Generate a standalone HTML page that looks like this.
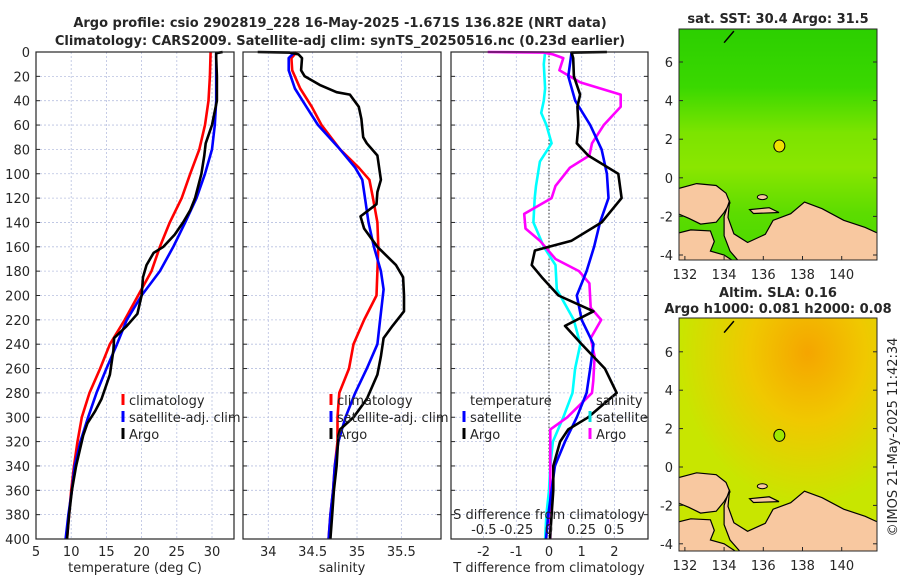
<!DOCTYPE html>
<html><head><meta charset="utf-8"><style>
body{margin:0;background:#fff}
svg text{font-family:"DejaVu Sans","Liberation Sans",sans-serif;fill:#262626}
</style></head><body>
<svg id="s" width="900" height="580" xmlns="http://www.w3.org/2000/svg">
<defs>
<linearGradient id="sstg" x1="0" y1="0" x2="0" y2="1">
<stop offset="0" stop-color="#2ccf00"/><stop offset="0.25" stop-color="#3ad800"/><stop offset="0.45" stop-color="#7ce400"/><stop offset="0.6" stop-color="#8ae600"/><stop offset="0.8" stop-color="#5cdc00"/><stop offset="1" stop-color="#48d800"/></linearGradient>
<radialGradient id="slag" cx="0.65" cy="0.15" r="0.65"><stop offset="0" stop-color="#f5a500"/><stop offset="0.45" stop-color="#f0c800"/><stop offset="1" stop-color="#c8e600"/></radialGradient>
</defs>
<g>
<text x="340" y="27" font-size="13" font-weight="bold" text-anchor="middle" fill="#000">Argo profile: csio 2902819_228 16-May-2025 -1.671S 136.82E (NRT data)</text>
<text x="340" y="45" font-size="13" font-weight="bold" text-anchor="middle" fill="#000">Climatology: CARS2009. Satellite-adj clim: synTS_20250516.nc (0.23d earlier)</text>
</g>
<g id="grids"></g>
<g id="lines"></g>
<g id="frames"></g>
<g id="maps"></g>
</svg>
<script>
// ---------- data ----------
const depthTicks=[0,20,40,60,80,100,120,140,160,180,200,220,240,260,280,300,320,340,360,380,400];
const tempTicks=[5,10,15,20,25,30];
const salTicks=[34,34.5,35,35.5];
const tdiffTicks=[-2,-1,0,1,2];
const sdiffTicks=[-0.5,-0.25,0,0.25,0.5];
const sdiffTickLabels=["-0.5","-0.25","0","0.25","0.5"];
const latTicks=[-4,-2,0,2,4,6];
const lonTicks=[132,134,136,138,140];

const tClimD=[0,20,40,60,80,100,120,140,160,180,200,220,240,260,280,300,320,340,360,380,400];
const tClim=[29.8,29.7,29.5,29.0,28.2,26.9,25.7,24.0,22.6,21.4,19.5,17.6,15.5,14.1,12.6,11.5,10.9,10.4,10.0,9.7,9.4];
const tSatD=[0,20,40,60,80,100,120,140,160,180,200,220,240,260,280,300,320,340,360,380,400];
const tSat=[30.6,30.6,30.6,30.4,30.0,29.0,27.8,26.2,24.5,22.6,20.0,17.9,16.5,15.0,13.6,12.4,11.3,10.5,10.1,9.6,9.2];
const tArgoD=[0,1,5,20,40,60,75,85,100,120,130,140,150,160,165,175,185,200,215,225,235,245,265,285,295,305,315,340,360,380,400];
const tArgo=[31.5,30.6,30.6,30.7,30.7,30.0,29.1,28.9,28.5,27.6,26.9,25.9,24.7,23.1,21.7,20.7,20.2,20.0,19.4,17.9,16.1,16.0,15.5,14.3,13.4,12.3,11.7,10.7,10.1,9.7,9.4];

const sClimD=[0,5,15,30,45,60,80,95,105,120,140,160,180,200,220,240,260,280,300,320,340,360,380,400];
const sClim=[34.32,34.26,34.27,34.36,34.49,34.60,34.81,35.02,35.14,35.18,35.23,35.24,35.23,35.22,35.08,34.96,34.91,34.80,34.78,34.78,34.75,34.73,34.70,34.68];
const sSatD=[0,5,15,30,45,60,80,95,105,120,140,160,180,195,220,240,260,280,300,320,340,360,380,400];
const sSat=[34.30,34.23,34.23,34.30,34.43,34.56,34.81,34.98,35.06,35.09,35.13,35.19,35.27,35.30,35.26,35.23,35.11,34.98,34.87,34.79,34.75,34.73,34.70,34.68];
const sArgoD=[0,0.5,2,5,15,20,27,33,35,45,55,70,75,85,105,115,125,135,145,160,175,185,200,213,225,235,250,265,285,300,310,315,340,360,380,400];
const sArgo=[33.88,34.24,34.34,34.38,34.37,34.41,34.58,34.77,34.92,35.02,35.05,35.07,35.11,35.23,35.27,35.23,35.22,35.04,35.08,35.23,35.44,35.52,35.53,35.53,35.40,35.30,35.27,35.23,35.11,34.96,34.81,34.79,34.77,34.74,34.72,34.70];

const dtSatD=[0,20,40,60,80,100,120,140,160,180,200,220,240,260,280,300,320,340,360,380,400];
const dtSat=[0.69,0.59,0.80,1.26,1.61,1.77,1.82,1.56,1.38,1.15,0.85,1.0,1.36,1.26,1.15,0.85,0.49,0.18,0.08,-0.02,-0.09];
const dtArgoD=[0,0.5,5,20,35,45,60,75,85,100,120,140,155,163,175,185,200,213,225,240,260,280,300,310,320,340,360,380,400];
const dtArgo=[1.77,0.69,0.74,0.76,0.95,0.87,0.90,0.85,1.2,2.12,2.22,1.61,0.69,-0.43,-0.53,-0.22,0.29,1.36,0.49,1.0,1.71,2.07,1.2,0.59,0.34,0.13,0.13,0.08,0.03];
const dsSatD=[0,10,30,40,50,60,75,90,110,120,140,160,175,195,220,240,260,280,300,320,340,360,380,400];
const dsSat=[-0.03,-0.04,-0.03,-0.04,-0.06,-0.02,0.02,-0.07,-0.10,-0.11,-0.12,-0.04,0.05,0.06,0.19,0.24,0.20,0.18,0.11,0.03,0.01,0.0,-0.02,-0.03];
const dsArgoD=[0,0.5,2,5,15,25,35,45,60,75,85,95,110,120,133,145,155,170,180,190,210,220,235,250,270,280,300,310,320,360,400];
const dsArgo=[-0.47,-0.04,0.03,0.11,0.08,0.24,0.55,0.55,0.42,0.33,0.31,0.16,0.05,0.02,-0.19,-0.18,-0.07,0.05,0.23,0.31,0.32,0.40,0.32,0.35,0.34,0.33,0.14,0.01,0.01,0.01,0.01];

// ---------- scales ----------
const Y0=52,Y1=539;
const Y=d=>Y0+d*(Y1-Y0)/400;
const Xt=t=>36+(t-5)*7.04;
const Xs=s=>268.3+(s-34)*88.7;
const Xdt=t=>549+t*32.7;
const Xds=s=>549+s*130.4;
const panels=[{x0:36,x1:234},{x0:243,x1:441},{x0:451,x1:648}];
const NS="http://www.w3.org/2000/svg";
function el(tag,attrs,parent,txt){const e=document.createElementNS(NS,tag);for(const k in attrs)e.setAttribute(k,attrs[k]);if(txt!==undefined)e.textContent=txt;parent.appendChild(e);return e;}
const G=document.getElementById('grids'),L=document.getElementById('lines'),F=document.getElementById('frames'),M=document.getElementById('maps');

function vgrid(vals,fx){vals.forEach(v=>{const g=el('line',{x1:fx(v),x2:fx(v),y1:Y0,y2:Y1,stroke:'#b8c0e0','stroke-width':0.8,'stroke-dasharray':'2,2'},G);

});}
panels.forEach(p=>{depthTicks.forEach(d=>{const g=el('line',{x1:p.x0,x2:p.x1,y1:Y(d),y2:Y(d),stroke:'#b8c0e0','stroke-width':0.8,'stroke-dasharray':'2,2'},G);

});});
vgrid(tempTicks,Xt);vgrid(salTicks,Xs);vgrid(tdiffTicks,Xdt);
const z=el('line',{x1:Xdt(0),x2:Xdt(0),y1:Y0,y2:Y1,stroke:'#333','stroke-width':1,'stroke-dasharray':'1.5,2'},G);



function line(ds,vs,fx,color,name){
  const pts=ds.map((d,i)=>fx(vs[i]).toFixed(1)+','+Y(d).toFixed(1)).join(' ');
  const p=el('polyline',{points:pts,fill:'none',stroke:color,'stroke-width':2.6,'stroke-linejoin':'round'},L);
  
  
}
line(tClimD,tClim,Xt,'#ff0000','temp-climatology-line');
line(tSatD,tSat,Xt,'#0000ff','temp-satellite-line');
line(tArgoD,tArgo,Xt,'#000000','temp-argo-line');
line(sClimD,sClim,Xs,'#ff0000','salinity-climatology-line');
line(sSatD,sSat,Xs,'#0000ff','salinity-satellite-line');
line(sArgoD,sArgo,Xs,'#000000','salinity-argo-line');
line(dsSatD,dsSat,Xds,'#00ffff','sdiff-satellite-line');
line(dsArgoD,dsArgo,Xds,'#ff00ff','sdiff-argo-line');
line(dtSatD,dtSat,Xdt,'#0000ff','tdiff-satellite-line');
line(dtArgoD,dtArgo,Xdt,'#000000','tdiff-argo-line');

panels.forEach((p,i)=>{const r=el('rect',{x:p.x0,y:Y0,width:p.x1-p.x0,height:Y1-Y0,fill:'none',stroke:'#262626','stroke-width':1.2},F);


depthTicks.forEach(d=>{el('line',{x1:p.x0,x2:p.x0+4,y1:Y(d),y2:Y(d),stroke:'#262626'},F);el('line',{x1:p.x1,x2:p.x1-4,y1:Y(d),y2:Y(d),stroke:'#262626'},F);});});
depthTicks.forEach(d=>{const t=el('text',{x:30,y:Y(d)+5,'font-size':13,'text-anchor':'end'},F,String(d));

});
function xticks(vals,labels,fx,y){vals.forEach((v,i)=>{const t=el('text',{x:fx(v),y:y,'font-size':13,'text-anchor':'middle'},F,labels[i]);

});}
xticks(tempTicks,tempTicks.map(String),Xt,556);
xticks(salTicks,salTicks.map(String),Xs,556);
xticks(tdiffTicks,tdiffTicks.map(String),Xdt,556);
const sl=el('text',{x:549,y:519,'font-size':13,'text-anchor':'middle'},F,'S difference from climatology');


sdiffTicks.forEach((v,i)=>{const t=el('text',{x:Xds(v),y:534,'font-size':13,'text-anchor':'middle'},F,sdiffTickLabels[i]);

});
[['temperature (deg C)',135,'temp-axis-title'],['salinity',342,'salinity-axis-title'],['T difference from climatology',549,'t-diff-axis-title']].forEach(a=>{const t=el('text',{x:a[1],y:572,'font-size':13,'text-anchor':'middle'},F,a[0]);

});

function leg(x,y,color,label,name){const g=el('g',{},F);


el('rect',{x:x-1.5,y:y-11,width:3,height:11,fill:color},g);el('text',{x:x+6,y:y,'font-size':13},g,label);}
leg(123,405,'#ff0000','climatology','legend-climatology');
leg(123,422,'#0000ff','satellite-adj. clim','legend-satellite');
leg(123,439,'#000','Argo','legend-argo');
leg(331,405,'#ff0000','climatology','legend-climatology-sal');
leg(331,422,'#0000ff','satellite-adj. clim','legend-satellite-sal');
leg(331,439,'#000','Argo','legend-argo-sal');
let tt=el('text',{x:470,y:405,'font-size':13},F,'temperature');


tt=el('text',{x:596,y:405,'font-size':13},F,'salinity');


leg(464,422,'#0000ff','satellite','legend-tdiff-satellite');
leg(464,439,'#000','Argo','legend-tdiff-argo');
leg(590,422,'#00e0e0','satellite','legend-sdiff-satellite');
leg(590,439,'#ff00ff','Argo','legend-sdiff-argo');

// ---------- maps ----------
const lonL=131.7,lonR=141.8;
const mapX=lon=>679+(lon-lonL)*(198/(lonR-lonL));
const maps=[{y0:29,y1:260,lat0:177.8,k:19.3,name:'sst-map',fill:'url(#sstg)',dotFill:'#f0e000'},{y0:318,y1:551,lat0:467,k:19.2,name:'sla-map',fill:'url(#slag)',dotFill:'#9ee800'}];
const birdsHead=[[131.5,-0.6],[132.6,-0.3],[133.6,-0.4],[134.1,-0.8],[134.3,-1.3],[134.0,-1.8],[133.6,-2.3],[132.8,-2.4],[132.2,-2.1],[131.5,-1.8]];
const bomberai=[[131.5,-2.9],[132.3,-2.7],[133.3,-2.75],[133.5,-3.3],[133.3,-3.8],[134.0,-4.0],[134.6,-4.4],[131.5,-4.4]];
const mainland=[[134.28,-1.18],[134.2,-2.05],[134.5,-2.9],[135.2,-3.35],[136.1,-2.93],[136.5,-2.2],[137.4,-1.86],[138.1,-1.26],[139.0,-1.6],[140.1,-2.2],[141.2,-2.57],[141.9,-2.9],[141.9,-4.5],[134.9,-4.5],[134.3,-3.8],[134.0,-3.0],[134.0,-2.0]];
const yapen=[[135.3,-1.65],[136.3,-1.55],[136.8,-1.8],[135.5,-1.85]];
maps.forEach((m,i)=>{
  const Ym=lat=>m.lat0-lat*m.k;
  const g=el('g',{},M);
  
  
  el('clipPath',{id:'clip'+i},g);
  el('rect',{x:679,y:m.y0,width:198,height:m.y1-m.y0},document.getElementById('clip'+i));
  el('rect',{x:679,y:m.y0,width:198,height:m.y1-m.y0,fill:m.fill},g);
  const cg=el('g',{'clip-path':'url(#clip'+i+')'},g);
  [birdsHead,bomberai,mainland,yapen].forEach(poly=>{el('polygon',{points:poly.map(p=>mapX(p[0]).toFixed(1)+','+Ym(p[1]).toFixed(1)).join(' '),fill:'#f8c8a0',stroke:'#000','stroke-width':1.2},cg);});
  el('ellipse',{cx:mapX(135.95),cy:Ym(-1.0),rx:5,ry:2.5,fill:'#f8c8a0',stroke:'#000'},cg);
  el('line',{x1:mapX(134.0),y1:Ym(7.0),x2:mapX(134.5),y2:Ym(7.6),stroke:'#000','stroke-width':1.5},cg);
  const dot=el('ellipse',{cx:mapX(136.82),cy:Ym(1.65),rx:5.5,ry:6,fill:m.dotFill,stroke:'#000','stroke-width':1},g);
  
  
  el('rect',{x:679,y:m.y0,width:198,height:m.y1-m.y0,fill:'none',stroke:'#262626'},g);
  latTicks.forEach(la=>{el('line',{x1:679,x2:683,y1:Ym(la),y2:Ym(la),stroke:'#262626'},g);el('line',{x1:877,x2:873,y1:Ym(la),y2:Ym(la),stroke:'#262626'},g);
    const t=el('text',{x:673,y:Ym(la)+5,'font-size':13,'text-anchor':'end'},g,String(la));
    
    });
  lonTicks.forEach(lo=>{el('line',{x1:mapX(lo),x2:mapX(lo),y1:m.y1,y2:m.y1-4,stroke:'#262626'},g);
    const t=el('text',{x:mapX(lo),y:m.y1+19,'font-size':13,'text-anchor':'middle'},g,String(lo));
    
    });
});
let mt=el('text',{x:778,y:23,'font-size':13,'font-weight':'bold','text-anchor':'middle',fill:'#000'},M,'sat. SST: 30.4 Argo: 31.5');


mt=el('text',{x:778,y:297,'font-size':13,'font-weight':'bold','text-anchor':'middle',fill:'#000'},M,'Altim. SLA: 0.16');


mt=el('text',{x:778,y:313,'font-size':13,'font-weight':'bold','text-anchor':'middle',fill:'#000'},M,'Argo h1000: 0.081 h2000: 0.08');


mt=el('text',{x:0,y:0,'font-size':13,'text-anchor':'middle',transform:'translate(897,437) rotate(-90)'},M,'©IMOS 21-May-2025 11:42:34');


</script>
</body></html>
